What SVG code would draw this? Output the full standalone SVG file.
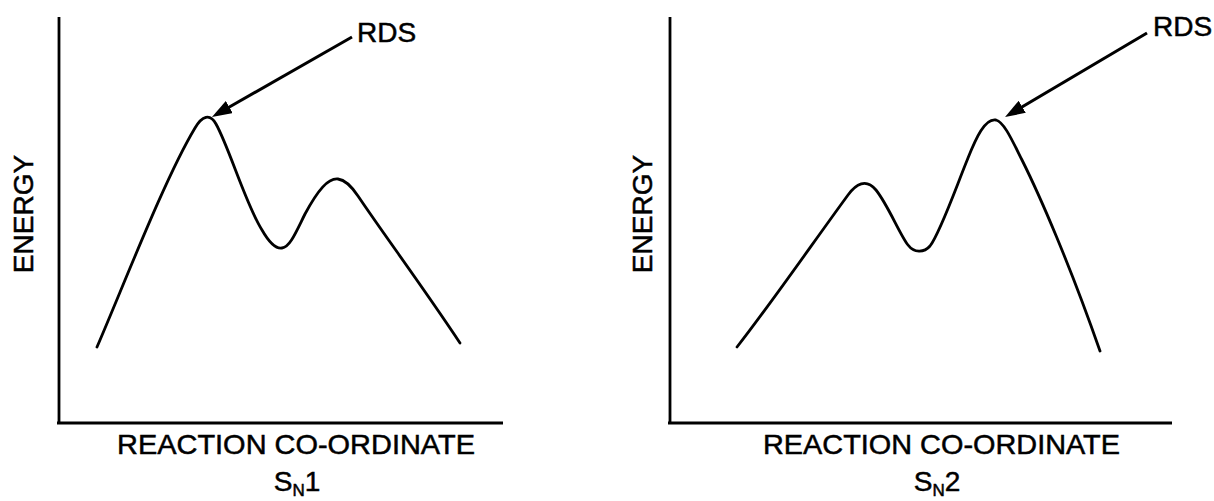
<svg xmlns="http://www.w3.org/2000/svg" width="1214" height="501" viewBox="0 0 1214 501">
<style>
  .axis { stroke:#000; stroke-width:2.8; fill:none; }
  .curve { stroke:#000; stroke-width:2.8; fill:none; stroke-linejoin:round; stroke-linecap:round; }
  .arrow { stroke:#000; stroke-width:3; fill:none; }
  .lbl { font-family:"Liberation Sans", Arial, Helvetica, sans-serif; font-size:28px; fill:#000; stroke:#000; stroke-width:0.5; }
  .sub { font-size:17px; }
</style>
<defs>
  <marker id="ah" markerUnits="userSpaceOnUse" viewBox="0 0 20 14" markerWidth="20" markerHeight="14" refX="9" refY="7" orient="auto">
    <path d="M0,0 L20,7 L0,14 z" fill="#000"/>
  </marker>
</defs>
<rect width="1214" height="501" fill="#fff"/>

<g id="sn1-chart">
  <g id="sn1-axes">
    <path class="axis" d="M59,17 L59,424 M57,423 L503,423"/>
  </g>
  <g id="sn1-curve">
    <path class="curve" d="M97,347 C125,282 165,178 195,128 C202,116 210,113 216,124 C229,147 246,205 262,230 C270,244 276,249 282,248 C290,247 296,232 305,214 C318,190 328,178 338,179 C346,180 352,187 358,196 C385,236 425,290 460,343"/>
  </g>
  <g id="sn1-ylabel"><text class="lbl" text-anchor="middle" transform="translate(33,214) rotate(-90)">ENERGY</text></g>
  <g id="sn1-xlabel"><text class="lbl" x="117" y="454" textLength="358" lengthAdjust="spacingAndGlyphs">REACTION CO-ORDINATE</text></g>
  <g id="sn1-title"><text class="lbl" x="297" y="491" text-anchor="middle">S<tspan class="sub" dy="5">N</tspan><tspan dy="-5">1</tspan></text></g>
  <g id="sn1-rds"><text class="lbl" x="357" y="42">RDS</text></g>
</g>

<g id="sn2-chart">
  <g id="sn2-axes">
    <path class="axis" d="M670,17 L670,424 M668,423 L1172,423"/>
  </g>
  <g id="sn2-curve">
    <path class="curve" d="M737,347 C770,305 815,240 848,195 C856,184 866,178 876,190 C888,205 900,235 908,245 C914,253 924,253 930,246 C940,233 955,190 968,158 C976,138 985,118 996,120 C1004,122 1012,140 1022,160 C1040,196 1070,265 1100,351"/>
  </g>
  <g id="sn2-ylabel"><text class="lbl" text-anchor="middle" transform="translate(652,214) rotate(-90)">ENERGY</text></g>
  <g id="sn2-xlabel"><text class="lbl" x="763" y="454" textLength="357" lengthAdjust="spacingAndGlyphs">REACTION CO-ORDINATE</text></g>
  <g id="sn2-title"><text class="lbl" x="937" y="491" text-anchor="middle">S<tspan class="sub" dy="5">N</tspan><tspan dy="-5">2</tspan></text></g>
  <g id="sn2-rds"><text class="lbl" x="1153" y="36">RDS</text></g>
</g>

<g id="connectors">
  <line class="arrow" x1="352" y1="37" x2="221.5" y2="111.5" marker-end="url(#ah)"/>
  <line class="arrow" x1="1147" y1="33" x2="1014.5" y2="111.4" marker-end="url(#ah)"/>
</g>
</svg>
